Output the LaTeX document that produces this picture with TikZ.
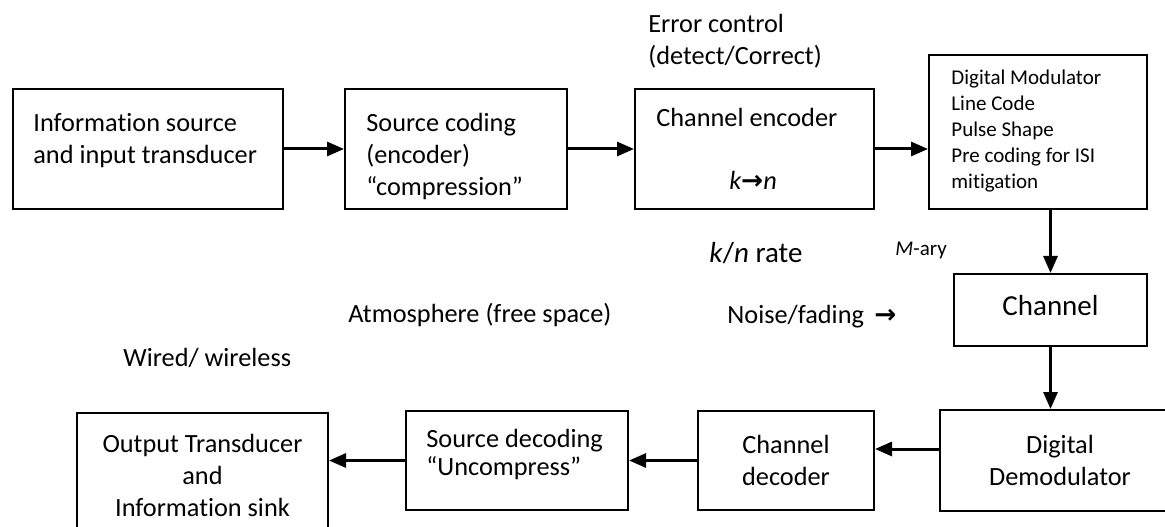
\documentclass[tikz,border=0pt]{standalone}
\usepackage{fontspec}
\setmainfont{Carlito}[Ligatures=NoCommon]
\newfontfamily\symfont{DejaVu Sans}
\usetikzlibrary{arrows.meta}
\tikzset{
  blk/.style={draw=black, line width=1bp, inner sep=0pt},
  arr/.style={line width=1.5bp, -{Triangle[length=8.5bp,width=7bp]}},
  txt/.style={inner sep=0pt, font=\fontsize{13.15bp}{16bp}\selectfont},
  smalltxt/.style={inner sep=0pt, font=\fontsize{10.5bp}{13bp}\selectfont},
  bigtxt/.style={inner sep=0pt, font=\fontsize{14.5bp}{17bp}\selectfont},
}
\begin{document}
\begin{tikzpicture}[x=0.5bp,y=-0.5bp]
\useasboundingbox (0,0) rectangle (1165,527);
\fill[white] (0,0) rectangle (1165,527);
\clip (0,0) rectangle (1165,527);
% boxes
\node[blk, minimum width=135bp, minimum height=60bp] (b1) at (148,149) {};
\node[blk, minimum width=111bp, minimum height=60bp] (b2) at (456,149) {};
\node[blk, minimum width=119.5bp, minimum height=60bp] (b3) at (754.5,149) {};
\node[blk, minimum width=109bp, minimum height=77bp] (b4) at (1038,132) {};
\node[blk, minimum width=96.5bp, minimum height=36bp] (ch) at (1050.5,310) {};
\node[blk, minimum width=120bp, minimum height=50.5bp] (dm) at (1060,460.5) {};
\node[blk, minimum width=88bp, minimum height=49.5bp] (cd) at (786,460.5) {};
\node[blk, minimum width=111bp, minimum height=49.5bp] (sd) at (517,460.5) {};
\node[blk, minimum width=125.5bp, minimum height=62bp] (op) at (202.5,475) {};
% box texts
\node[txt, anchor=west, align=left] (t1) at (33,141) {Information source\\and input transducer};
\node[txt, anchor=west, align=left] (t2) at (366,156) {Source coding\\(encoder)\\“compression”};
\node[txt, anchor=west] (t3) at (656,117) {Channel encoder};
\node[txt] (t3b) at (753,180) {\itshape k{\symfont\bfseries\upshape →}n};
\node[smalltxt, anchor=west, align=left] (t4) at (951,131) {Digital Modulator\\Line Code\\Pulse Shape\\Pre coding for ISI\\mitigation};
\node[bigtxt] (tch) at (1050.5,306) {Channel};
\node[txt, align=center] (tdm) at (1060,460) {Digital\\Demodulator};
\node[txt, align=center] (tcd) at (786,460) {Channel\\decoder};
\node[txt, anchor=west, align=left, font=\fontsize{13.15bp}{14bp}\selectfont] (tsd) at (426,454) {Source decoding\\“Uncompress”};
\node[txt, align=center] (top) at (202.5,475.5) {Output Transducer\\and\\Information sink};
% free labels
\node[txt, anchor=west, align=left] (err) at (648,41) {Error control\\(detect/Correct)};
\node[bigtxt, anchor=west] (rate) at (709,253) {\textit{k}/\textit{n} rate};
\node[inner sep=0pt, font=\fontsize{10.5bp}{12bp}\selectfont, anchor=west] (mary) at (895,250) {\textit{M}-ary};
\node[txt, anchor=west] (noise) at (727,317) {Noise/fading \,{\symfont\bfseries →}};
\node[txt, anchor=west] (atm) at (348,315) {Atmosphere (free space)};
\node[txt, anchor=west] (wire) at (123,358) {Wired/ wireless};
% connectors
\draw[arr] (b1.east) -- (b2.west);
\draw[arr] (b2.east) -- (b3.west);
\draw[arr] (b3.east) -- (b3.east -| b4.west);
\draw[arr] (ch.north |- b4.south) -- (ch.north);
\draw[arr] (ch.south) -- (ch.south |- dm.north);
\draw[arr] ([yshift=5.75bp]dm.west) -- ([yshift=5.75bp]cd.east);
\draw[arr] (cd.west) -- (sd.east);
\draw[arr] (sd.west) -- (sd.west -| op.east);
\end{tikzpicture}
\end{document}
